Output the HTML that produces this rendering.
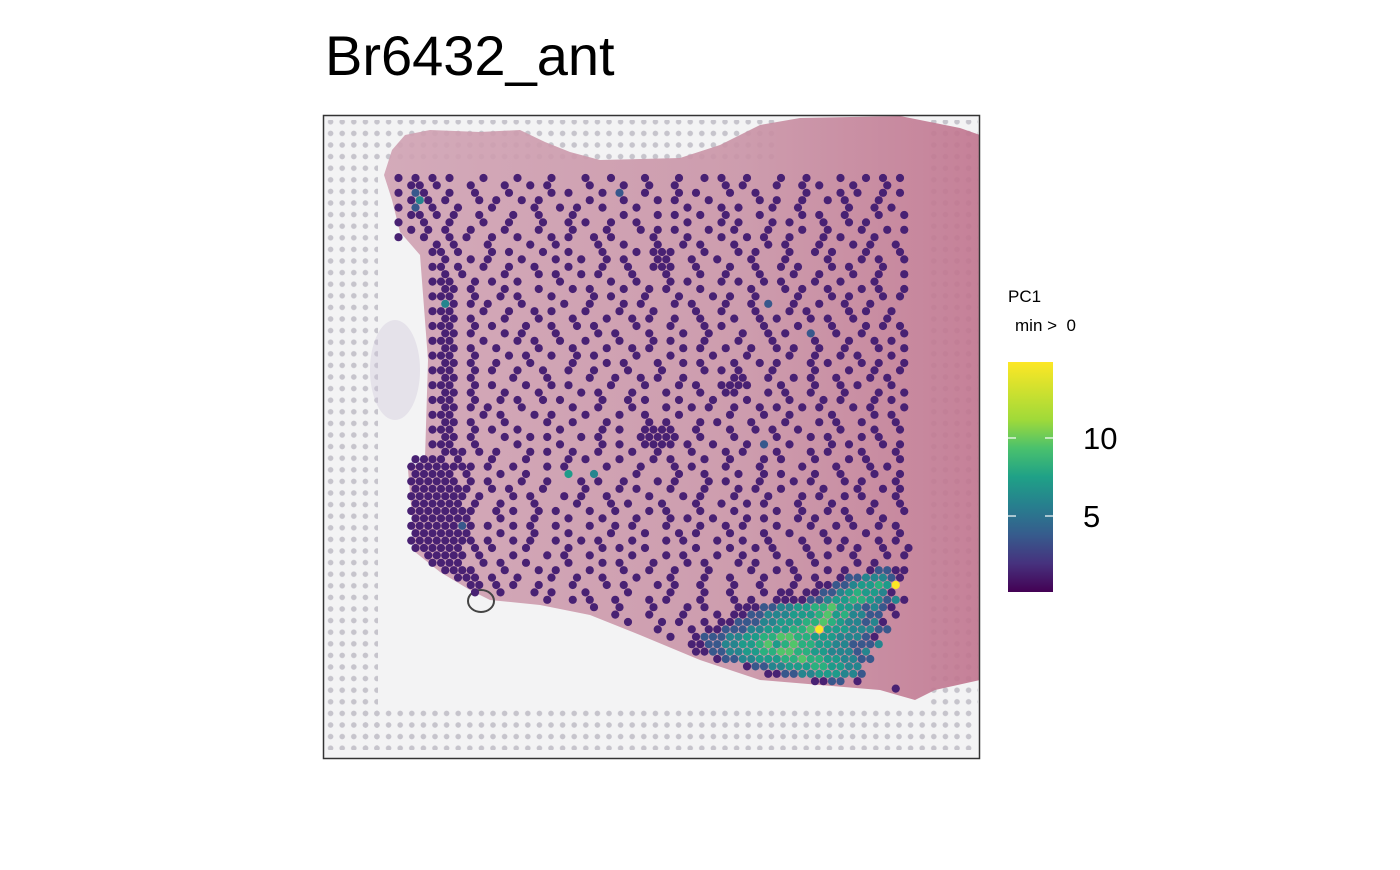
<!DOCTYPE html>
<html><head><meta charset="utf-8"><style>
html,body{margin:0;padding:0;background:#fff;}
body{width:1400px;height:865px;position:relative;overflow:hidden;font-family:"Liberation Sans",sans-serif;}
</style></head><body>
<svg width="1400" height="865" viewBox="0 0 1400 865" xmlns="http://www.w3.org/2000/svg">
<defs>
<pattern id="fid" x="0" y="0" width="11.6" height="11.6" patternUnits="userSpaceOnUse">
<circle cx="5.8" cy="5.8" r="2.8" fill="#c6c4cc"/>
</pattern>
<linearGradient id="tg" x1="0" y1="0" x2="1" y2="0">
<stop offset="0" stop-color="#d0a2b3"/><stop offset="0.6" stop-color="#c993a6"/><stop offset="1" stop-color="#c0748e"/>
</linearGradient>
<clipPath id="pc"><rect x="324" y="116" width="655" height="642"/></clipPath>
</defs>
<text x="325" y="75" font-size="56" fill="#000">Br6432_ant</text>
<g clip-path="url(#pc)">
<rect x="324" y="116" width="655" height="642" fill="#f3f3f4"/>
<rect x="326" y="120" width="52" height="630" fill="url(#fid)"/>
<rect x="365" y="708" width="612" height="42" fill="url(#fid)"/>
<rect x="378" y="120" width="400" height="45" fill="url(#fid)"/>
<rect x="930" y="120" width="48" height="590" fill="url(#fid)"/>
<path d="M384,175 L392,150 L405,135 L430,130 L480,132 L520,130 L545,142 L570,152 L600,160 L680,158 L720,145 L760,125 L800,118 L900,116 L960,128 L980,135 L980,680 L935,690 L915,700 L880,690 L820,685 L760,680 L700,660 L640,635 L590,615 L540,605 L490,600 L470,590 L440,572 L415,552 L408,470 L425,458 L428,360 L420,255 L400,232 L392,200 Z" fill="url(#tg)" opacity="0.9"/>
<ellipse cx="395" cy="370" rx="25" ry="50" fill="#d0c8dc" opacity="0.4"/>
<ellipse cx="481" cy="601" rx="13" ry="11" fill="none" stroke="#444" stroke-width="2"/>
<g id="spots"></g>
</g>
<rect x="323.5" y="115.5" width="656" height="643" fill="none" stroke="#333" stroke-width="1.5"/>
<text x="1008" y="302" font-size="17">PC1</text>
<text x="1015" y="331" font-size="17" xml:space="preserve">min &gt;  0</text>
<defs><linearGradient id="cb" x1="0" y1="1" x2="0" y2="0">
<stop offset="0" stop-color="#440154"/><stop offset="0.125" stop-color="#46327e"/><stop offset="0.25" stop-color="#365c8d"/><stop offset="0.375" stop-color="#277f8e"/><stop offset="0.5" stop-color="#1fa187"/><stop offset="0.625" stop-color="#4ac16d"/><stop offset="0.75" stop-color="#a0da39"/><stop offset="1" stop-color="#fde725"/></linearGradient></defs>
<rect x="1008" y="362" width="45" height="230" fill="url(#cb)"/>
<g id="cbticks"></g>
</svg>
<script>
const cbMin = 0.13, cbMax = 14.87;
const tickValues = [5, 10];
const tickLabels = ["5", "10"];
const levelValues = [1, 4, 6.5, 8, 9.5, 11, 13, 15];
const spotRows = [
".0.0.0.0...0...0...0...0..0...0...0..0.0..0...0..0...0..0.0.0",
"..00.0...0...0..0.0....0...0..0..0.....0.0...0..0.0...0...0..",
".0.10..0..0...0....0.0...0.1..0...0.0...0..0.....0...0.0..0.0",
"..020.0...0.0..0.0.....0...0...0.0...0.....0.0..0..0.0...0...",
".0.1.0..0...0....0..0.0..0...0.....0...0.0...0..0.....0..0.0.",
"..00.0.0..0...0..0...0.....0...0.0..0..0...0....0.0..0...0..0",
".0..0..0...0..0...0..0.0..0..0.....0...0.0...0.0...0..0.0....",
"..0.0.0..0...0...0...0...0...0.0.0...0..0...0...0..0...0..0.0",
".0..0..0.0..0..0...0.0..0.0....0...0...0..0.0..0...0.0...0...",
".....0.0...0....0..0....0..0...0..0.0...0...0.0...0...0.0..0.",
".....00.0...0.0...0..0...0...0.000...0...0.0...0..0.0...0...0",
"......0..0.0...0...0..0..0.0...00..0..0...0...0....0...0.0..0",
".....00.0..0..0..0...0...0..0..000..0...0..0..0.0...0.0...0..",
"......0.0....0...0.0..0.0...0...0...0..0...0...0..0...0..0..0",
".....000..0.0..0....0.....0..0...0.0...0.0..0.0...0..0...0...",
"......00.0...0...0...0.0...0..0.0...0.....0...0.0..0...0.0..0",
".....000..0..0.0...0....0.0...0...0...0.0..0....0...0.0...0.0",
"......20.0.0...0....0..0...0.0...0.0...0..0.1..0..0..0..0....",
".....000...0..0..0.0...0...0...0....0..0...0...0.0....0.0..0.",
"......00.0...0...0...0...0..0.0..0..0...0..0.0...0.0..0...0..",
".....000..0.0...0..0..0.0....0...0...0.0....0...0...0...0.0.0",
"......00.0...0.0...0....0.0...0...0..0...0..0.0..1..0..0....0",
".....000...0...0.0..0..0...0...0.0...0...0...0....0...0..0.0.",
"......00.0..0....0...0...0..0.0...0.0..0..0..0.0..0..0...0..0",
".....000..0...0.0..0..0.0....0...0....0...0....0..0..0.0...0.",
"......00.0..0...0....0...0.0...0..0.0...0..0.0...0.0...0.0..0",
".....000..0.0..0..0..0..0...0...0....0.0.0...0....0...0..0..0",
"......00.0....0...0....0..0..0.0..0.....00..0..0.0..0...0.0..",
".....000..0.0...0..0.0....0...0...0.0..0000...0...0..0.0...0.",
"......00.0...0...0....0.0...0...0...0..00...0.0..0...0...0..0",
".....000..0..0.0..0.0....0..0.0...0...0...0....0...0.0...0.0.",
"......00.0.0...0.....0..0...0...0..0.0..0..0.0..0.0...0.0...0",
".....000...0.0...0.0...0...0..0...0.....0...0..0....0....0.0.",
"......00.0...0....0..0...0....0.0...0.0...0...0...0.0..0...0.",
".....000..0.0..0....0....0.0..0000..0...0..0.0..0....0...0..0",
"......00.0...0..0.0...0.0....00000..0...0....0...0.0...0.0...",
".....000..0....0....0....0.0..0000.0..0...0.1..0....0.0...0.0",
"......000.0.0...0.0..0..0...0..0...0...0.0...0...0.0...0...0.",
"...0000.0...0...0....0.0...0...0.0...0..0...0.0...0...0.0...0",
"..00000000.0..0...0.0....0...0...0.0...0...0....0...0...0.0..",
"...00000.0...0..0....3..2....0....0..0...0..0.0...0..0...0..0",
"..000000.0.0...0..0...0.0..0...0.0...0.0...0...0.0...0.0...0.",
"...0000000..0.0...0....0...0.0...0...0...0.0..0....0...0..0.0",
"..0000000.0...0.0...0.0..0....0...0.0...0...0...0.0..0.0...0.",
"...000000.0..0...0....0...0.0...0...0..0..0.0...0...0....0..0",
"..00000000..0.0..0.0...0..0...0.0...0...0....0..0..0.0..0...0",
"...0000000...0...0...0...0...0...0.0..0...0.0...0.0...0...0..",
"..00000010.0..0.0..0...0..0.0...0...0..0.0...0...0..0.0..0.0.",
"...0000000...0...0...0....0...0...0.0...0...0..0...0....0...0",
"..00000000.0..0.0..0..0.0...0...0.0...0..0..0...0..0.0...0.0.",
"...000000.0.0...0....0...0.0..0.....0...0..0.0...0...0.0..0..0",
"....00000.0...0...0.0..0....0...0.0...0..0...0...0.0..0...0.0",
".....0000..0.0..0....0...0.0...0...0.0...0.0...0..0....0.0...",
"......0000...0...0.0...0...0..0..0...0....0..0.0...0.0..01100",
"........000.0..0...0..0..0...0...0...0..0...0...0.0..01122210",
".........00.0.0..0...0...0.0...0.0..0...0..0...0..0011233437",
"..........0..0...0.0...0....0....0...0..0...0.00.00112343320",
"..................0..0.0..0...0.0...0...0.0..0000112334432120",
"........................0..0...0...0.0...0001122334453321210",
"..........................0...0...0...0.001122233345342211.0",
"............................0...0.0..0.00111223334454322120",
"...............................0...0.0011122333445733322211",
".................................0..0111223344554433322210",
"...................................00112233453454433221112",
"....................................001122334455443322212",
"......................................0112233344544332211",
"..........................................01122333443322",
"............................................001122333221",
"..................................................0011.0",
"...........................................................0."
];
const xScale = c => 390 + c * 8.5;
const yScale = r => 178 + r * 7.4;
const viridis = ["#440154","#482173","#433e85","#38588c","#2d708e","#25858e","#1e9b8a","#2ab07f","#51c56a","#86d549","#c2df23","#fde725"];
function colorOf(v){
  let t = (v - cbMin) / (cbMax - cbMin); t = Math.max(0, Math.min(1, t));
  return viridis[Math.round(t * (viridis.length - 1))];
}
const NS = "http://www.w3.org/2000/svg";
const g = document.getElementById("spots");
spotRows.forEach((row, r) => {
  for (let c = 0; c < row.length; c++) {
    const ch = row[c];
    if (ch === ".") continue;
    const v = levelValues[+ch];
    const el = document.createElementNS(NS, "circle");
    el.setAttribute("cx", xScale(c) + (r % 2) * 4.25);
    el.setAttribute("cy", yScale(r));
    el.setAttribute("r", 4.1);
    el.setAttribute("fill", colorOf(v));
    
    
    g.appendChild(el);
  }
});
const cbY = v => 592 - (v - cbMin) / (cbMax - cbMin) * 230;
const tg = document.getElementById("cbticks");
tickValues.forEach((v, i) => {
  const y = cbY(v);
  [[1008,1016],[1045,1053]].forEach(([a,b]) => {
    const l = document.createElementNS(NS, "line");
    l.setAttribute("x1", a); l.setAttribute("x2", b);
    l.setAttribute("y1", y); l.setAttribute("y2", y);
    l.setAttribute("stroke", "#fff"); l.setAttribute("stroke-width", "1.2");
    
    
    tg.appendChild(l);
  });
  const t = document.createElementNS(NS, "text");
  t.setAttribute("x", 1083); t.setAttribute("y", y + 11);
  t.setAttribute("font-size", "31");
  t.textContent = tickLabels[i];
  
  
  tg.appendChild(t);
});
</script>
</body></html>
